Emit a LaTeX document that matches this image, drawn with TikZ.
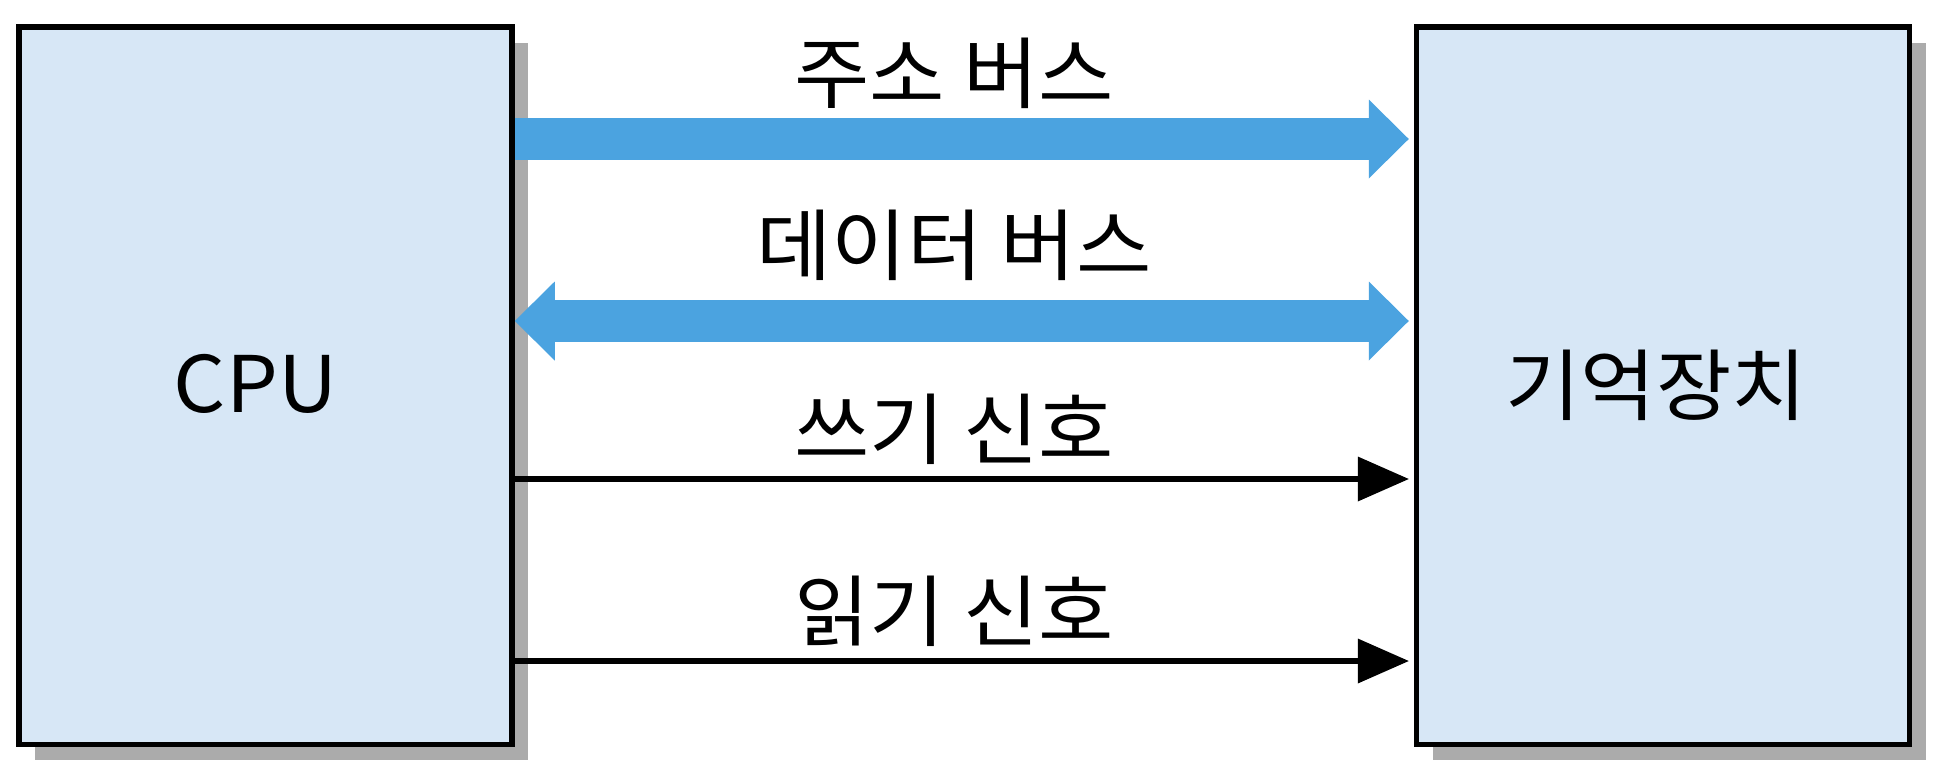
\documentclass[tikz,border=0pt]{standalone}
\usepackage{fontspec}
\newfontfamily\kr[FakeStretch=1.05]{Noto Sans CJK KR}
\usetikzlibrary{arrows.meta,shadows}
\definecolor{boxfill}{RGB}{215,231,246}
\definecolor{busblue}{RGB}{75,163,224}
\definecolor{shadowgray}{RGB}{171,171,171}
\begin{document}
\begin{tikzpicture}[x=0.5pt,y=-0.5pt,
  unitbox/.style={draw=black, line width=2.75pt, fill=boxfill,
    minimum width=246.5pt, minimum height=358.75pt, inner sep=0pt,
    font=\kr\fontsize{39}{46}\selectfont,
    drop shadow={shadow xshift=8pt, shadow yshift=-8pt, fill=shadowgray, opacity=1}},
  buslabel/.style={font=\kr\fontsize{39}{46}\selectfont, inner sep=0pt},
  bus/.style={draw=busblue, line width=21pt},
  signal/.style={draw=black, line width=2.6pt, shorten >=2.5pt}
]
\useasboundingbox (0,0) rectangle (1952,782);
\node[unitbox] (cpu) at (265.5,385.5) {\raisebox{2.5pt}{CPU}\hspace*{10pt}};
\node[unitbox] (mem) at (1663,385.5) {\raisebox{2pt}{기억장치}\hspace*{7pt}};
\coordinate (ya) at (0,139);
\coordinate (yd) at (0,321);
\coordinate (yw) at (0,479);
\coordinate (yr) at (0,661);
\draw[bus, -{Triangle[width=39.5pt,length=20pt,line width'=0pt]}, shorten >=2.5pt]
  (cpu.east |- ya) -- (mem.west |- ya);
\draw[bus, {Triangle[width=39.5pt,length=20pt,line width'=0pt]}-{Triangle[width=39.5pt,length=20pt,line width'=0pt]}, shorten >=2.5pt]
  (cpu.east |- yd) -- (mem.west |- yd);
\draw[signal, -{Triangle[width=22.5pt,length=25.5pt,line width'=0pt]}]
  (cpu.east |- yw) -- (mem.west |- yw);
\draw[signal, -{Triangle[width=22.5pt,length=25.5pt,line width'=0pt]}]
  (cpu.east |- yr) -- (mem.west |- yr);
\node[buslabel] (la) at (954,73) {주소 버스};
\node[buslabel] (ld) at (954,245) {데이터 버스};
\node[buslabel] (lw) at (954,429) {쓰기 신호};
\node[buslabel] (lr) at (954,611) {읽기 신호};
\end{tikzpicture}
\end{document}
